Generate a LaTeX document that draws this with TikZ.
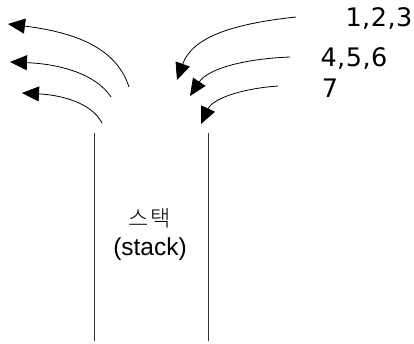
\documentclass[tikz,border=0pt]{standalone}
\usepackage{fontspec}
\setmainfont{Liberation Sans}
\newfontfamily\krfont[LetterSpace=8]{Noto Sans CJK KR Light}
\newfontfamily\numfont[LetterSpace=2]{DejaVu Sans}
\usetikzlibrary{arrows.meta}
\tikzset{
  flow/.style={line width=0.8pt, -{Triangle[length=17pt,width=15pt]}},
  wall/.style={line width=0.8pt, draw=black!80},
  lbl/.style={inner sep=0pt, font=\numfont\fontsize{25.5}{28}\selectfont},
  stkkr/.style={inner sep=0pt, font=\krfont\fontsize{22}{26}\selectfont},
  stken/.style={inner sep=0pt, font=\fontsize{24.5}{28}\selectfont}
}
\begin{document}
\begin{tikzpicture}[x=1pt,y=-1pt]
\useasboundingbox (0,0) rectangle (414,343);
% stack walls
\coordinate (lt) at (94,133);
\coordinate (lb) at (94,341);
\coordinate (rt) at (208,133);
\coordinate (rb) at (208,341);
\draw[wall] (lt) -- (lb);
\draw[wall] (rt) -- (rb);
\node[stkkr] (stackkr) at (150,218) {스택};
\node[stken] (stacken) at (150,249) {(stack)};
% labels
\node[lbl] (l1) at (379,19) {1,2,3};
\node[lbl] (l2) at (354,59) {4,5,6};
\node[lbl] (l3) at (330,88) {7};
% incoming arrows
\coordinate (a1s) at (296,17);
\coordinate (a1e) at (177,80);
\coordinate (a2s) at (290,57);
\coordinate (a2e) at (190,96);
\coordinate (a3s) at (278,86);
\coordinate (a3e) at (201,124);
\draw[flow] (a1s) .. controls (230,24) and (192,38) .. (a1e);
\draw[flow] (a2s) .. controls (240,59) and (207,70) .. (a2e);
\draw[flow] (a3s) .. controls (237,89) and (212,100) .. (a3e);
% outgoing arrows
\coordinate (b1s) at (129,87);
\coordinate (b1e) at (8,24);
\coordinate (b2s) at (111,97);
\coordinate (b2e) at (10,62);
\coordinate (b3s) at (102,123);
\coordinate (b3e) at (22,93);
\draw[flow] (b1s) .. controls (117,50) and (80,33) .. (b1e);
\draw[flow] (b2s) .. controls (96,74) and (60,64) .. (b2e);
\draw[flow] (b3s) .. controls (91,102) and (60,95) .. (b3e);
\end{tikzpicture}
\end{document}
